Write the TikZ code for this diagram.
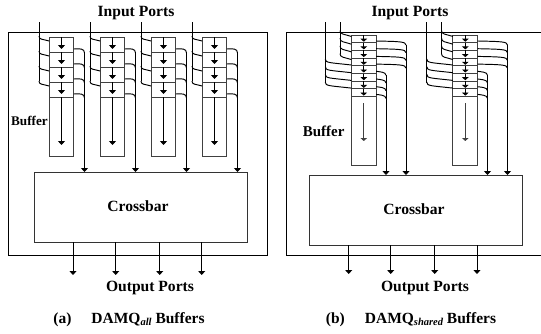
\documentclass[tikz,border=0pt]{standalone}
\usepackage{fontspec}
\setmainfont{Liberation Serif}
\usetikzlibrary{arrows.meta}
\tikzset{
  wire/.style={line width=0.95pt, black},
  flow/.style={wire, -{Triangle[width=7pt,length=4pt]}},
  smallflow/.style={wire, -{Triangle[width=6.5pt,length=3pt]}},
  cellbox/.style={draw=black!75, line width=0.95pt, inner sep=0pt, outer sep=0pt, minimum width=24.8pt},
  barbox/.style={draw=black!80, line width=0.95pt, inner sep=0pt, outer sep=0pt, text depth=2pt, font=\ports},
  portlabel/.style={inner sep=0pt, anchor=base, font=\ports},
  captionlabel/.style={portlabel, font=\fontsize{15.5}{18}\selectfont\bfseries},
}
\newcommand{\ports}{\fontsize{15.6}{18}\selectfont\bfseries}
\newcommand{\subtag}[1]{\raisebox{-2.5pt}{\fontsize{10.5}{10.5}\selectfont\bfseries\itshape #1}}
\begin{document}
\begin{tikzpicture}[x=1pt, y=-1pt]
    \useasboundingbox (0,0) rectangle (541,333);

    % --- painel (a): frame, crossbar ---
    \draw[wire] (8.5,32) rectangle (267,255);
    \node[barbox, minimum width=213pt, minimum height=70pt] (barA) at (140.5,207) {Crossbar\hspace*{5pt}};

    % --- painel (a): four buffers ---
    \foreach \n/\dx in {1/0,2/51,3/102,4/153} {
      \foreach \k/\ya in {1/37,2/52,3/67,4/82} {
        \node[cellbox, minimum height=15pt] (a\n-\k) at (61.5+\dx,\ya+7.5) {};
        \draw[flow] (a\n-\k.north) -- ([yshift=3pt]a\n-\k.south);
        % entrada e saida de cada celula
        \draw[wire] (39+\dx,\ya-1) .. controls (39+\dx,\ya+3) and (43+\dx,\ya+2) .. ([yshift=-4pt]a\n-\k.north west);
        \draw[wire] ([yshift=-12pt]a\n-\k.north east) .. controls (80+\dx,\ya+11.5) and (84.5+\dx,\ya+11.5) .. (84.5+\dx,\ya+16);
      }
      \node[cellbox, minimum height=59pt] (a\n-tail) at (61.5+\dx,126.5) {};
      \draw[flow] (a\n-tail.north) -- ([yshift=11pt]a\n-tail.south);
      \coordinate (ina\n) at (39+\dx,22);
      \coordinate (outa\n) at (84.5+\dx,53);
      \draw[wire] (ina\n) -- (39+\dx,81);
      \draw[flow] (outa\n) -- (outa\n |- barA.north);
    }
    \node[portlabel, font=\fontsize{13.2}{15}\selectfont\bfseries] (bufA) at (29.5,125) {Buffer};

    % --- painel (a): ports ---
    \foreach \x in {73,115.7,159.7,201.7}
      \draw[flow] (\x,0 |- barA.south) -- (\x,275);
    \node[portlabel] (inA) at (136,16.5) {Input Ports};
    \node[portlabel] (outA) at (150,291.5) {Output Ports};
    \node[captionlabel] (capA) at (129,323) {(a)\hspace{20pt}DAMQ\subtag{all} Buffers};

    % --- painel (b): frame aberto a direita, crossbar ---
    \draw[wire] (541,32) -- (286.5,32) -- (286.5,255) -- (541,255);
    \node[barbox, minimum width=213pt, minimum height=70pt] (barB) at (415.5,210) {Crossbar\hspace*{3pt}};

    % --- painel (b): two shared buffers ---
    \foreach \n/\dx in {1/0,2/101.5} {
      \foreach \k/\ya/\xin/\xout/\yin/\yout in {1/35/340/406/1.5/6,2/42.7/340/406/1.5/6,
          3/50.4/340/406/1.5/6,4/58.1/340/406/1.5/6,5/65.8/325.3/386/-0.8/5.5,
          6/73.5/325.3/386/-0.8/5.5,7/81.2/325.3/386/-0.8/5.5,8/88.9/325.3/386/-0.8/5.5} {
        \node[cellbox, minimum height=7.7pt] (b\n-\k) at (363.8+\dx,\ya+3.85) {};
        \draw[smallflow] (b\n-\k.north) -- ([yshift=1pt]b\n-\k.south);
        \draw[wire] (\xin+\dx,\ya+\yin-6) .. controls (\xin+\dx,\ya+\yin-2) and (\xin+4+\dx,\ya+\yin-2.5) .. (351.4+\dx,\ya+\yin);
        \draw[wire] (376.2+\dx,\ya+\yout) .. controls (\xout-7+\dx,\ya+\yout+0.5) and (\xout+\dx,\ya+\yout+0.5) .. (\xout+\dx,\ya+\yout+4);
      }
      \node[cellbox, minimum height=68.4pt] (b\n-tail) at (363.8+\dx,130.8) {};
      \draw[smallflow, black!75, line width=0.8pt] (363.8+\dx,103) -- (363.8+\dx,141);
      \coordinate (inb\n) at (340+\dx,22);
      \coordinate (inc\n) at (325.3+\dx,22);
      \coordinate (outb\n) at (406+\dx,45);
      \coordinate (outc\n) at (386+\dx,75);
      \draw[wire] (inb\n) -- (340+\dx,54);
      \draw[wire] (inc\n) -- (325.3+\dx,82.5);
      \draw[flow] (outb\n) -- (outb\n |- barB.north);
      \draw[flow] (outc\n) -- (outc\n |- barB.north);
    }
    \node[portlabel, font=\fontsize{15}{18}\selectfont\bfseries] (bufB) at (323.7,136.5) {Buffer};

    % --- painel (b): ports ---
    \foreach \x in {348.7,390.7,434.7,477}
      \draw[flow] (\x,0 |- barB.south) -- (\x,274);
    \node[portlabel] (inB) at (410,16.5) {Input Ports};
    \node[portlabel] (outB) at (425,291) {Output Ports};
    \node[captionlabel] (capB) at (411,323) {(b)\hspace{20pt}DAMQ\subtag{shared} Buffers};
\end{tikzpicture}
\end{document}
